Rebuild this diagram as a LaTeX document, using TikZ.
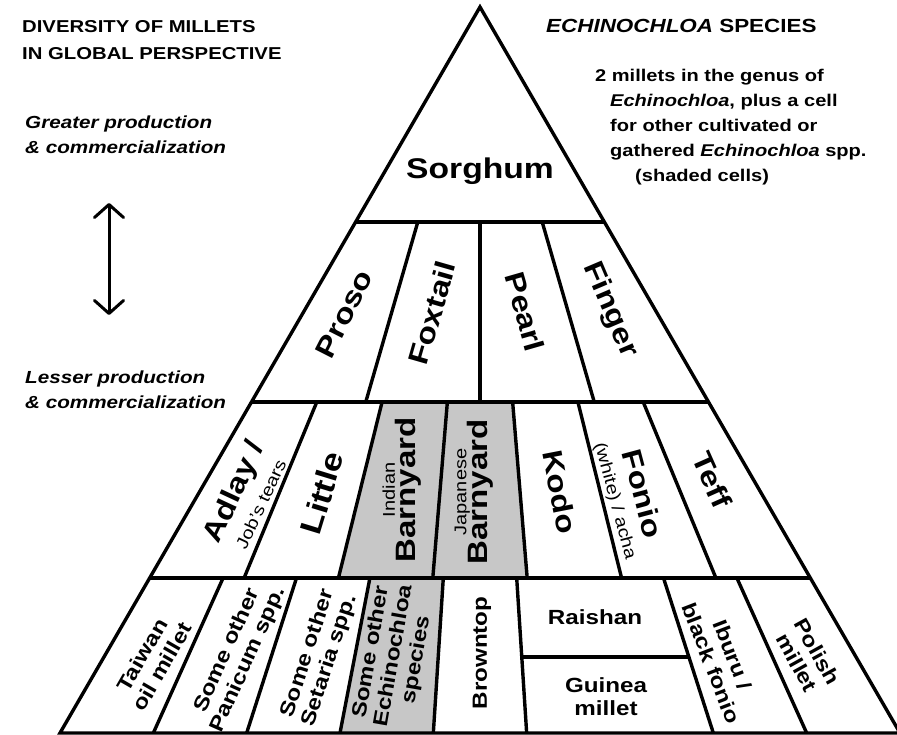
\documentclass[tikz,border=0pt]{standalone}
\usepackage{fontspec}
\setmainfont{Liberation Sans}[FakeStretch=1.18]
\usetikzlibrary{calc,arrows.meta}

\definecolor{cellgray}{RGB}{199,199,199}
\newcommand{\cellnote}[1]{{\fontsize{17}{20}\selectfont\mdseries #1}}

\tikzset{
  rule/.style={line width=3.4pt},
  cellbig/.style={inner sep=0pt, align=center, font=\fontsize{28}{24}\selectfont\bfseries},
  cellsmall/.style={inner sep=0pt, align=center, font=\fontsize{20.5}{23}\selectfont\bfseries},
  sidetext/.style={inner sep=0pt, anchor=base west, align=left, font=\fontsize{17.5}{25}\selectfont\bfseries\itshape},
  note/.style={inner sep=0pt, anchor=base west, align=left, font=\fontsize{17}{25}\selectfont\bfseries},
}

\begin{document}
\begin{tikzpicture}[x=1pt,y=-1pt]
    \useasboundingbox (0,0) rectangle (897,735);

    % corners of the pyramid rows
    \coordinate (apex) at (480,7);
    \coordinate (l1) at (355.6,222); \coordinate (r1) at (604.4,222);
    \coordinate (l2) at (251.5,402); \coordinate (r2) at (708.5,402);
    \coordinate (l3) at (149.7,578); \coordinate (r3) at (810.3,578);
    \coordinate (l4) at (60,733);    \coordinate (r4) at (900,733);

    % Echinochloa cells
    \fill[cellgray] ($(l2)!2/7!(r2)$) -- ($(l2)!4/7!(r2)$) -- ($(l3)!4/7!(r3)$) -- ($(l3)!2/7!(r3)$) -- cycle;
    \fill[cellgray] ($(l3)!3/9!(r3)$) -- ($(l3)!4/9!(r3)$) -- ($(l4)!4/9!(r4)$) -- ($(l4)!3/9!(r4)$) -- cycle;

    \draw[rule] (apex) -- (l4) -- (r4) -- cycle;
    \draw[rule] (l1) -- (r1) (l2) -- (r2) (l3) -- (r3);
    \foreach \k in {1,2,3}
        \draw[rule] ($(l1)!\k/4!(r1)$) -- ($(l2)!\k/4!(r2)$);
    \foreach \k in {1,...,6}
        \draw[rule] ($(l2)!\k/7!(r2)$) -- ($(l3)!\k/7!(r3)$);
    \foreach \k in {1,2,3,4,5,7,8} {
        \coordinate (t\k) at ($(l3)!\k/9!(r3)$);
        \coordinate (b\k) at ($(l4)!\k/9!(r4)$);
        \draw[rule] (t\k) -- (b\k);
    }
    \draw[rule] ($(t5)!0.51!(b5)$) -- ($(t7)!0.51!(b7)$);

    % row 1 and 2
    \node[cellbig, font=\fontsize{28.5}{30}\selectfont\bfseries] (sorghum) at (480,171) {Sorghum};
    \node[cellbig, rotate=63] (proso) at (344,314) {Proso};
    \node[cellbig, rotate=74] (foxtail) at (432,313) {Foxtail};
    \node[cellbig, rotate=-74] (pearl) at (525,312) {Pearl};
    \node[cellbig, rotate=-67] (finger) at (610,310) {Finger};

    % row 3
    \node[cellbig, rotate=65] (adlay) at (245,497) {Adlay /\\[3pt]\cellnote{Job's tears}};
    \node[cellbig, rotate=73, font=\fontsize{30}{30}\selectfont\bfseries] (little) at (322,493) {Little};
    \node[cellbig, rotate=90] (indian) at (402,490) {\cellnote{Indian}\\[-3pt]Barnyard};
    \node[cellbig, rotate=90] (japanese) at (474,492) {\cellnote{Japanese}\\[-3pt]Barnyard};
    \node[cellbig, rotate=-79] (kodo) at (560,492) {Kodo};
    \node[cellbig, rotate=-75] (fonio) at (630,497) {Fonio\\\cellnote{(white) / acha}};
    \node[cellbig, rotate=-66] (teff) at (712,480) {Teff};

    % row 4
    \node[cellsmall, rotate=60] (taiwan) at (152,661) {Taiwan\\oil millet};
    \node[cellsmall, rotate=66] (panicum) at (238,655) {Some other\\Panicum spp.};
    \node[cellsmall, rotate=72] (setaria) at (319,657) {Some other\\Setaria spp.};
    \node[cellsmall, rotate=80] (echino) at (394,656) {Some other\\Echinochloa\\species};
    \node[cellsmall, rotate=90] (browntop) at (482,653) {Browntop};
    \node[cellsmall] (raishan) at (595,617) {Raishan};
    \node[cellsmall] (guinea) at (606,697) {Guinea\\millet};
    \node[cellsmall, rotate=-69] (iburu) at (722,659) {Iburu /\\black fonio};
    \node[cellsmall, rotate=-61] (polish) at (807,657) {Polish\\millet};

    % left side
    \node[sidetext, font=\fontsize{17.2}{27}\selectfont\bfseries] (title) at (22,60)
        {DIVERSITY OF MILLETS\\IN GLOBAL PERSPECTIVE};
    \node[sidetext] (greater) at (25,154) {Greater production\\\& commercialization};
    \node[sidetext] (lesser) at (25,408) {Lesser production\\\& commercialization};
    \coordinate (up) at (109,203);
    \coordinate (down) at (109,315);
    \draw[line width=3pt, {Straight Barb[length=13pt,width=29pt,round]}-{Straight Barb[length=13pt,width=29pt,round]}] (up) -- (down);

    % right side
    \node[note, font=\fontsize{19}{25}\selectfont\bfseries] (species) at (546,33) {\textit{ECHINOCHLOA} SPECIES};
    \node[note] (genus) at (595,82) {2 millets in the genus of};
    \node[note] (cellnote) at (610,157) {\textit{Echinochloa}, plus a cell\\for other cultivated or\\gathered \textit{Echinochloa} spp.};
    \node[note] (shaded) at (635,182) {(shaded cells)};
\end{tikzpicture}
\end{document}
